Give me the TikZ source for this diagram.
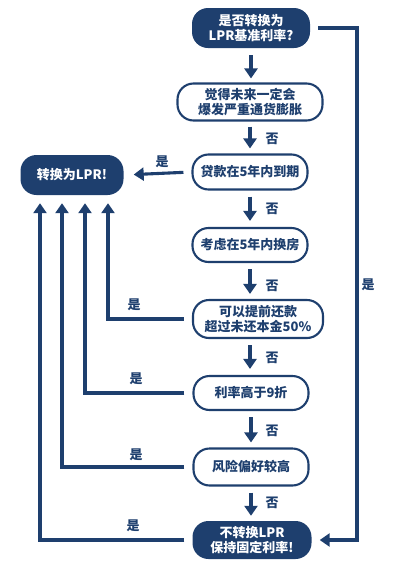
\documentclass[tikz,border=0pt]{standalone}
\usepackage{fontspec}
\setmainfont{Noto Sans CJK SC}
\usetikzlibrary{arrows.meta,calc}
\definecolor{navy}{HTML}{1E3F6E}
\begin{document}
\begin{tikzpicture}[x=1pt,y=-1pt,
  every node/.style={font=\bfseries\fontsize{13}{15.5}\selectfont},
  darkbox/.style={rectangle,rounded corners=16pt,fill=navy,text=white,align=center,inner sep=0pt},
  lightbox/.style={rectangle,rounded corners=16pt,draw=navy,line width=2.1pt,fill=white,text=navy,align=center,inner sep=0pt},
  conn/.style={draw=navy,line width=3.1pt},
  arr/.style={conn,-{Triangle[width=13pt,length=10pt]}},
  lbl/.style={text=navy}]
\useasboundingbox (0,0) rectangle (400,571);
\node[darkbox,minimum width=118pt,minimum height=40pt] (q1) at (251,28) {是否转换为\\LPR基准利率?};
\node[lightbox,minimum width=145pt,minimum height=37pt] (n2) at (250,102) {觉得未来一定会\\爆发严重通货膨胀};
\node[lightbox,minimum width=115pt,minimum height=35pt] (n3) at (250,172) {贷款在5年内到期};
\node[darkbox,minimum width=103pt,minimum height=40pt] (yes) at (72,175) {转换为LPR!};
\node[lightbox,minimum width=115pt,minimum height=34pt] (n4) at (250,245) {考虑在5年内换房};
\node[lightbox,minimum width=130pt,minimum height=38pt] (n5) at (258,319) {可以提前还款\\超过未还本金50\%};
\node[lightbox,minimum width=115pt,minimum height=34pt] (n6) at (251,393) {利率高于9折};
\node[lightbox,minimum width=115pt,minimum height=37pt] (n7) at (251,467) {风险偏好较高};
\node[darkbox,minimum width=119pt,minimum height=38pt] (no) at (252,540) {不转换LPR\\保持固定利率!};
% down arrows
\draw[arr,shorten <=7pt,shorten >=4pt] (q1.south) -- (q1.south |- n2.north);
\draw[arr,shorten <=5pt,shorten >=5pt] (n2.south) -- (n2.south |- n3.north);
\draw[arr,shorten <=6pt,shorten >=6pt] (n3.south) -- (n3.south |- n4.north);
\draw[arr,shorten <=6pt,shorten >=5pt] (n4.south) -- (n4.south |- n5.north);
\draw[arr,shorten <=6pt,shorten >=6pt] (n3.south |- n5.south) -- (n3.south |- n6.north);
\draw[arr,shorten <=6pt,shorten >=5pt] (n6.south) -- (n6.south |- n7.north);
\draw[arr,shorten <=6pt,shorten >=5pt] (n7.south) -- (n7.south |- no.north);
\node[lbl] at (272,139) {否};
\node[lbl] at (272,209) {否};
\node[lbl] at (272,286) {否};
\node[lbl] at (272,358) {否};
\node[lbl] at (272,431) {否};
\node[lbl] at (272,503) {否};
% left connectors
\draw[arr,shorten <=8pt,shorten >=10pt] (n3.west) -- (yes.east);
\node[lbl] at (162,162) {是};
\draw[arr,shorten <=8pt,shorten >=8pt] (n5.west) -| ([xshift=36pt]yes.south);
\node[lbl] at (134,305) {是};
\draw[arr,shorten <=8pt,shorten >=8pt] (n6.west) -| ([xshift=13pt]yes.south);
\node[lbl] at (136,379) {是};
\draw[arr,shorten <=8pt,shorten >=8pt] (n7.west) -| ([xshift=-10pt]yes.south);
\node[lbl] at (136,455) {是};
\draw[arr,shorten <=8pt,shorten >=8pt] (no.west) -| ([xshift=-32pt]yes.south);
\node[lbl] at (133,526) {是};
% right connector
\coordinate (r1) at (357,28);
\draw[arr,shorten <=8pt,shorten >=8pt] (q1.east) -- (r1) |- (no.east);
\node[lbl] at (368,285) {是};
\end{tikzpicture}
\end{document}
